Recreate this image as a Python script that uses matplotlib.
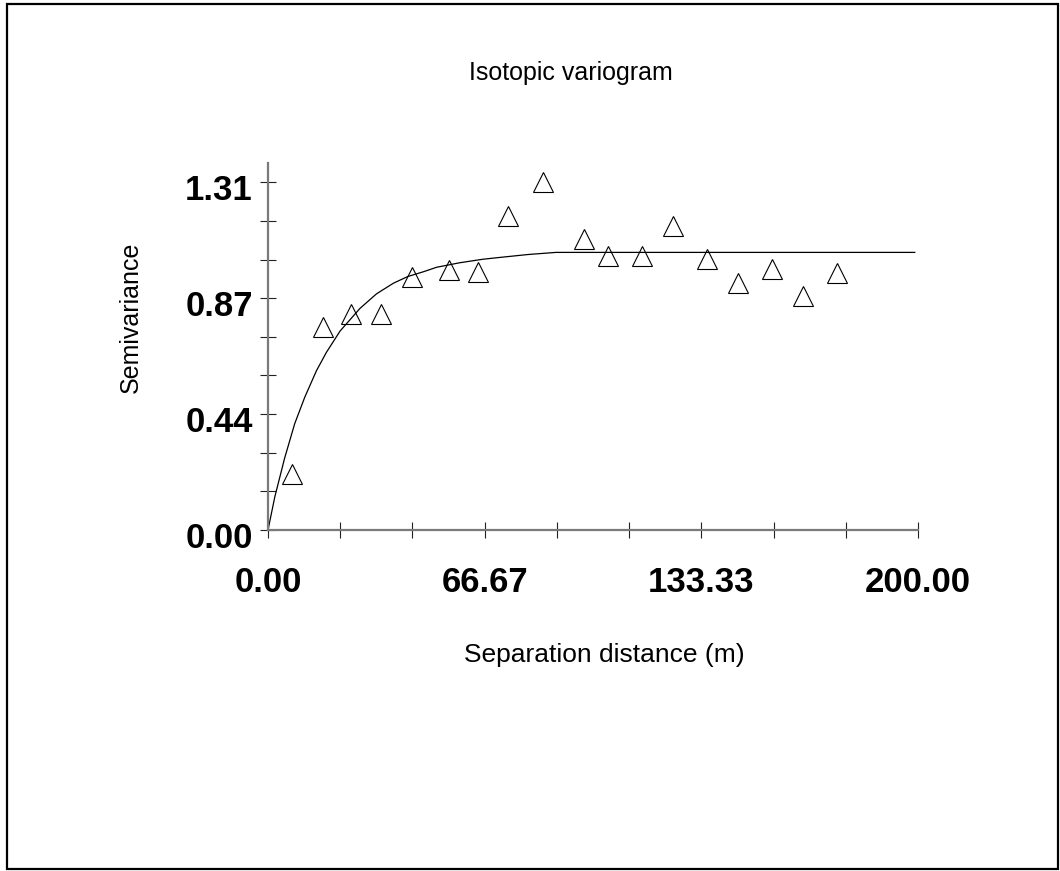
import numpy as np
import matplotlib.pyplot as plt
import matplotlib.transforms as mtransforms
from matplotlib.patches import Rectangle

# experimental semivariogram (lag distance in m, semivariance)
lag_dist = [7.4, 16.8, 25.6, 34.9, 44.3, 55.8, 64.5, 73.9, 84.5,
            97.1, 104.5, 115.1, 124.5, 135.1, 144.5, 155.1, 164.5, 175.1]
semivar = [0.212, 0.765, 0.815, 0.815, 0.953, 0.981, 0.974, 1.184, 1.310,
           1.095, 1.032, 1.032, 1.145, 1.020, 0.932, 0.983, 0.881, 0.970]

# fitted model curve
model_dist = [0, 2.1, 5.1, 8.2, 11.3, 14.9, 18.0, 22.2, 28.3, 33.4, 38.6,
              43.0, 47.8, 51.9, 59.0, 66.0, 70.5, 80.0, 88.6, 199.0]
model_gamma = [0, 0.125, 0.27, 0.40, 0.50, 0.60, 0.67, 0.75, 0.835, 0.89, 0.93,
               0.955, 0.973, 0.99, 1.007, 1.02, 1.026, 1.038, 1.046, 1.046]

x_max = 200.0
y_max = 1.31
x_tick_labels = ["0.00", "66.67", "133.33", "200.00"]
y_tick_labels = ["0.00", "0.44", "0.87", "1.31"]

W, H = 1060, 871
fig = plt.figure(figsize=(W / 100, H / 100), dpi=100)
plt.rcParams['font.family'] = ['Liberation Sans', 'DejaVu Sans']

# axes box in pixels: x 268..918, y 163..530 (from top)
ax = fig.add_axes([268 / W, (H - 530) / H, 650 / W, 367 / H])
ax.set_xlim(0, x_max)
ax.set_ylim(0, y_max * 1.0556)

ax.plot(model_dist, model_gamma, color='black', lw=0.9, clip_on=False, zorder=2)
ax.plot(lag_dist, semivar, ls='none', marker='^', ms=14.5, mfc='none',
        mec='black', mew=0.8, clip_on=False, zorder=3)

for s in ['top', 'right']:
    ax.spines[s].set_visible(False)
for s in ['left', 'bottom']:
    ax.spines[s].set_color('#7a7a7a')
    ax.spines[s].set_linewidth(1.6)

xt = np.linspace(0, x_max, 10)
yt = np.linspace(0, y_max, 10)
ax.set_xticks(xt)
ax.set_yticks(yt)
ax.set_xticklabels([x_tick_labels[i // 3] if i % 3 == 0 else "" for i in range(10)])
ax.set_yticklabels([y_tick_labels[i // 3] if i % 3 == 0 else "" for i in range(10)])
ax.tick_params(axis='both', direction='inout', length=12, width=0.8, color='#222222')
ax.tick_params(axis='y', pad=5)
ax.tick_params(axis='x', pad=20)
for lab in ax.get_xticklabels() + ax.get_yticklabels():
    lab.set_fontsize(25)
    lab.set_fontweight('bold')

# nudge the y labels down a little
off = mtransforms.ScaledTranslation(0, -4.5 / 100, fig.dpi_scale_trans)
for lab in ax.get_yticklabels():
    lab.set_transform(lab.get_transform() + off)

fig.text(571 / W, 1 - 80 / H, "Isotopic variogram", fontsize=18,
         ha='center', va='baseline')
fig.text(604 / W, 1 - 662 / H, "Separation distance (m)", fontsize=19,
         ha='center', va='baseline')
fig.text(138 / W, 1 - 317 / H, "Semivariance", fontsize=18, rotation=90,
         rotation_mode='anchor', ha='center', va='baseline')

# frame around the whole figure
fig.patches.append(Rectangle((7 / W, 2 / H), 1051 / W, 865 / H, fill=False,
                             edgecolor='black', lw=1.6, transform=fig.transFigure))

fig.savefig("out.png", dpi=100)
